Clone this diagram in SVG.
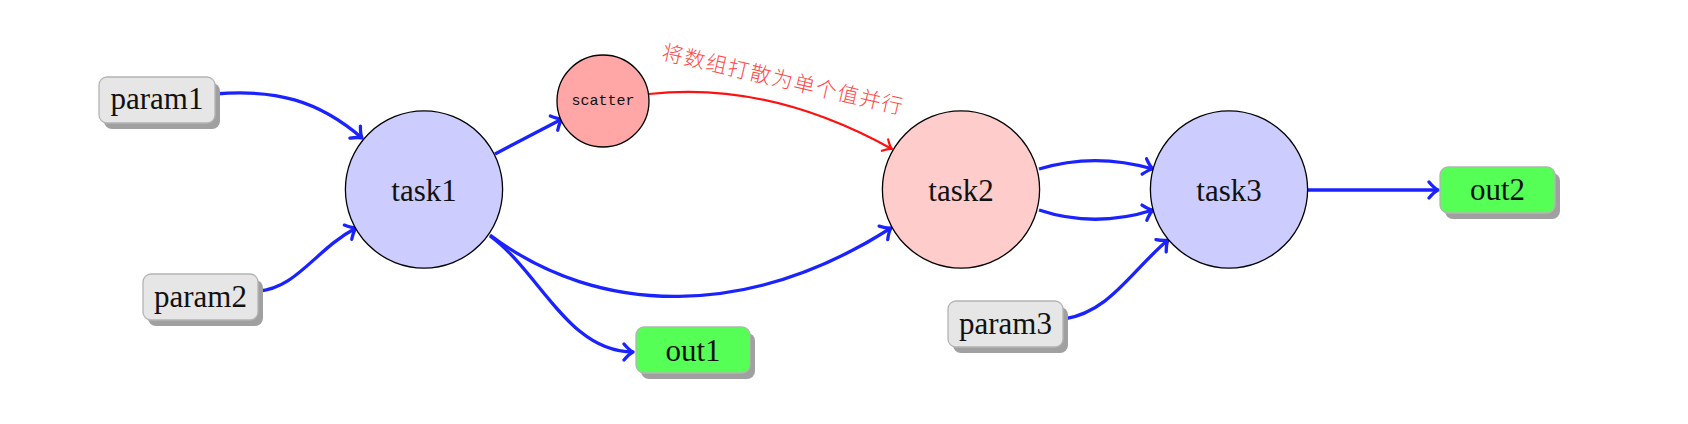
<svg xmlns="http://www.w3.org/2000/svg" width="1688" height="424" viewBox="0 0 1688 424">
<style>
.bg{fill:#ffffff}
.shadow{fill:#a0a0a0}
.pbox{fill:#e6e6e6;stroke:#b4b4b4;stroke-width:1.3}
.obox{fill:#55ff55;stroke:#b4b4b4;stroke-width:1.3}
.circ{stroke:#000;stroke-width:1.3}
.lbl{font-family:"Liberation Serif","DejaVu Serif",serif;font-size:31px;fill:#111;text-anchor:middle}
.mono{font-family:"Liberation Mono","DejaVu Sans Mono",monospace;font-size:15px;fill:#111;text-anchor:middle}
.cn{font-family:"Noto Sans CJK SC",sans-serif;font-size:21px;font-weight:300;fill:#ff4848;text-anchor:middle;letter-spacing:1.5px}
.eb{fill:none;stroke:#1a22ff;stroke-width:3.3;marker-end:url(#ab)}
.er{fill:none;stroke:#ff1010;stroke-width:2.2;marker-end:url(#ar)}
</style>
<defs>
<marker id="ab" viewBox="-12 -10 14 20" markerWidth="14" markerHeight="20" refX="0" refY="0" orient="auto" markerUnits="userSpaceOnUse">
<path d="M-9,-8 Q-4,-2 0,0 Q-4,2 -9,8" fill="none" stroke="#1a22ff" stroke-width="3.3" stroke-linecap="round" stroke-linejoin="round"/>
</marker>
<marker id="ar" viewBox="-12 -10 14 20" markerWidth="14" markerHeight="20" refX="0" refY="0" orient="auto" markerUnits="userSpaceOnUse">
<path d="M-8,-6.5 Q-3.5,-1.5 0,0 Q-3.5,1.5 -8,6.5" fill="none" stroke="#ff1010" stroke-width="2.2" stroke-linecap="round" stroke-linejoin="round"/>
</marker>
</defs>
<rect class="bg" x="0" y="0" width="1688" height="424"/>

<g id="connectors">
<path class="eb" d="M215,94 C275,89 318,100 362,138"/>
<path class="eb" d="M258,291 C296,289 316,249 356,228"/>
<path class="eb" d="M495,154 L562,119"/>
<path class="er" d="M649,94 C720,86 800,98 892,149"/>
<path class="eb" d="M490,235 C600,318 750,318 891,228"/>
<path class="eb" d="M490,236 C540,272 568,352 633,352"/>
<path class="eb" d="M1039,169 C1075,158 1115,158 1153,169"/>
<path class="eb" d="M1039,210 C1075,222 1115,222 1153,210"/>
<path class="eb" d="M1064,319 C1110,312 1132,270 1168,240"/>
<path class="eb" d="M1308,190 L1438,190"/>
</g>

<g id="label-scatter">
<text class="cn" transform="translate(783,80) rotate(13)" x="0" y="7">将数组打散为单个值并行</text>
</g>

<g id="param1">
<rect class="shadow" x="104" y="83" width="116" height="46" rx="8"/>
<rect class="pbox" x="99" y="77" width="116" height="46" rx="8"/>
<text class="lbl" x="157" y="109">param1</text>
</g>
<g id="param2">
<rect class="shadow" x="148" y="280" width="115" height="46" rx="8"/>
<rect class="pbox" x="143" y="274" width="115" height="46" rx="8"/>
<text class="lbl" x="200.5" y="307">param2</text>
</g>
<g id="param3">
<rect class="shadow" x="953" y="307" width="115" height="46" rx="8"/>
<rect class="pbox" x="948" y="301" width="115" height="46" rx="8"/>
<text class="lbl" x="1005.5" y="334">param3</text>
</g>
<g id="task1">
<circle class="circ" cx="424" cy="189.5" r="78.6" fill="#ccccff"/>
<text class="lbl" x="424" y="201">task1</text>
</g>
<g id="scatter">
<circle class="circ" cx="603" cy="101" r="46" fill="#ffa6a6"/>
<text class="mono" x="603" y="105">scatter</text>
</g>
<g id="task2">
<circle class="circ" cx="961" cy="189.5" r="78.6" fill="#ffcccc"/>
<text class="lbl" x="961" y="201">task2</text>
</g>
<g id="task3">
<circle class="circ" cx="1229" cy="189.5" r="78.6" fill="#ccccff"/>
<text class="lbl" x="1229" y="201">task3</text>
</g>
<g id="out1">
<rect class="shadow" x="641" y="333" width="114" height="46" rx="8"/>
<rect class="obox" x="636" y="327" width="114" height="46" rx="8"/>
<text class="lbl" x="693" y="361">out1</text>
</g>
<g id="out2">
<rect class="shadow" x="1445" y="173" width="115" height="46" rx="8"/>
<rect class="obox" x="1440" y="167" width="115" height="46" rx="8"/>
<text class="lbl" x="1497.5" y="200">out2</text>
</g>
</svg>
